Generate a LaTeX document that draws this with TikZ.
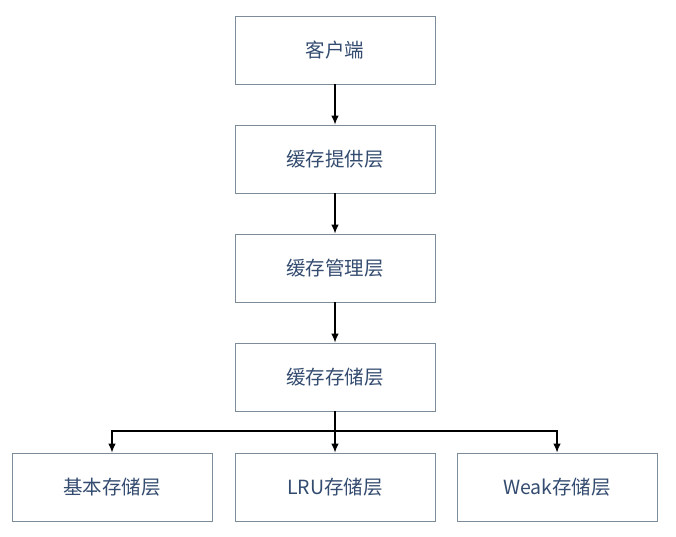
\documentclass[tikz,border=0pt]{standalone}
\usepackage{fontspec}
\usetikzlibrary{arrows.meta}
\newfontfamily\cjk{Noto Sans CJK SC}
\definecolor{boxgray}{RGB}{125,140,155}
\definecolor{textblue}{RGB}{52,76,112}
\begin{document}
\begin{tikzpicture}[>={Latex[length=9pt,width=7.5pt]},x=1pt,y=-1pt,
    layer/.style={draw=boxgray,line width=0.9pt,fill=white,
      minimum width=200pt,minimum height=68pt,inner sep=0pt,
      text=textblue,font=\cjk\fontsize{19.5}{19.5}\selectfont},
    link/.style={->,line width=1.1pt}]
  \useasboundingbox[fill=white] (0,0) rectangle (676,537);

  % The column of layers
  \foreach \name/\y/\lab in {
    client/50/客户端,
    provide/159/缓存提供层,
    manage/268/缓存管理层,
    store/377/缓存存储层} {
    \node [layer] (\name) at (335,\y) {\lab};
  }

  % The three kinds of storage
  \foreach \name/\x/\lab in {
    basic/112/基本存储层,
    lru/335/LRU存储层,
    weak/557/Weak存储层} {
    \node [layer] (\name) at (\x,487) {\lab};
  }

  % Arrows down the column
  \draw [link] (client) -- (provide);
  \draw [link] (provide) -- (manage);
  \draw [link] (manage) -- (store);

  % Branching to the storages
  \coordinate (fork) at (335,431);
  \draw [line width=1.1pt] (store.south) -- (fork);
  \draw [link] (fork) -| (basic.north);
  \draw [link] (fork) -- (lru.north);
  \draw [link] (fork) -| (weak.north);
\end{tikzpicture}
\end{document}
